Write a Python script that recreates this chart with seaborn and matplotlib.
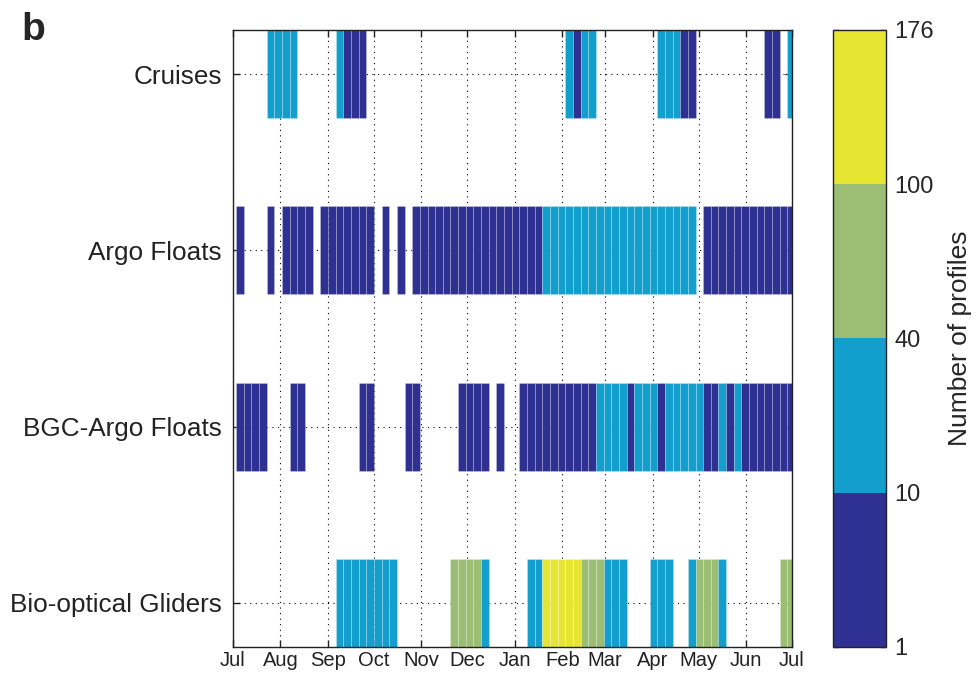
import numpy as np
import pandas as pd
import matplotlib
matplotlib.use("Agg")
import matplotlib.pyplot as plt
import seaborn as sns
from matplotlib.colors import ListedColormap, BoundaryNorm
from matplotlib.cm import ScalarMappable

# rows (top to bottom)
platforms = ["Cruises", "Argo Floats", "BGC-Argo Floats", "Bio-optical Gliders"]

# month ticks, in days since 1 July
month_days = [0, 31, 62, 92, 123, 153, 184, 215, 243, 274, 304, 335, 365]
month_labels = ["Jul", "Aug", "Sep", "Oct", "Nov", "Dec", "Jan",
                "Feb", "Mar", "Apr", "May", "Jun", "Jul"]

# colour classes of the number of profiles
class_bounds = [1, 10, 40, 100, 176]
class_colors = ["#2E3192", "#139FCD", "#9BBE74", "#E6E632"]

bin_days = 5

# segments: start day, end day, profiles per 5-day bin (estimated)
cruises_start = [22, 67, 72, 217, 222, 227, 277, 292, 347, 362]
cruises_end = [42, 72, 87, 222, 227, 237, 292, 302, 357, 365]
cruises_count = [20, 18, 6, 15, 5, 22, 25, 7, 4, 12]

argo_start = [2, 22, 32, 57, 97, 107, 117, 202, 307]
argo_end = [7, 27, 52, 92, 102, 112, 202, 302, 365]
argo_count = [3, 2, 5, 6, 3, 4, 8, 18, 7]

bgc_start = [2, 37, 82, 112, 147, 172, 187, 237, 257, 262, 277, 282, 307, 317, 322, 327, 332]
bgc_end = [22, 47, 92, 122, 167, 177, 237, 257, 262, 277, 282, 307, 317, 322, 327, 332, 365]
bgc_count = [4, 3, 2, 3, 5, 2, 8, 15, 9, 14, 8, 16, 8, 12, 9, 11, 6]

glider_start = [67, 142, 162, 192, 202, 227, 242, 272, 297, 302, 317, 357]
glider_end = [107, 162, 167, 202, 227, 242, 257, 287, 302, 317, 322, 365]
glider_count = [30, 70, 25, 30, 150, 65, 28, 22, 15, 55, 20, 50]

segments = {
    "Cruises": (cruises_start, cruises_end, cruises_count),
    "Argo Floats": (argo_start, argo_end, argo_count),
    "BGC-Argo Floats": (bgc_start, bgc_end, bgc_count),
    "Bio-optical Gliders": (glider_start, glider_end, glider_count),
}

# split segments into 5-day bins
rows = []
for i, name in enumerate(platforms):
    starts, ends, counts = segments[name]
    for s, e, c in zip(starts, ends, counts):
        for d in range(s, e, bin_days):
            rows.append({"platform": name, "row": i + 1, "day": d,
                         "width": min(d + bin_days, e) - d, "count": c})
df = pd.DataFrame(rows)

cmap = ListedColormap(class_colors)
norm = BoundaryNorm(class_bounds, cmap.N)

sns.set_theme(style="white")
plt.rcParams['font.family'] = ['Liberation Sans', 'DejaVu Sans']

fig = plt.figure(figsize=(9.79, 6.75), dpi=100)
ax = fig.add_axes([0.238, 0.0415, 0.571, 0.9141])
cax = fig.add_axes([0.851, 0.0415, 0.054, 0.9141])

ax.bar(df["day"], 0.5, width=df["width"], bottom=df["row"] - 0.25, align="edge",
       color=cmap(norm(df["count"].values)), edgecolor=(1, 1, 1, 0.3), linewidth=0.5)

ax.set_xlim(0, 365)
ax.set_ylim(4.25, 0.75)
ax.set_xticks(month_days)
ax.set_xticklabels(month_labels, fontsize=14.5)
ax.set_yticks(range(1, len(platforms) + 1))
ax.set_yticklabels(platforms, fontsize=18.8)
ax.set_axisbelow(True)
ax.grid(True, color="black", linestyle=(0, (1, 4)), linewidth=0.8)
ax.tick_params(direction="in", length=5, width=1, top=True, right=True,
               bottom=True, left=True, colors="#222222")
ax.tick_params(axis="y", pad=8)
ax.tick_params(axis="x", pad=3)
for sp in ax.spines.values():
    sp.set_color("#222222")
    sp.set_linewidth(1.0)
    sp.set_visible(True)

cb = fig.colorbar(ScalarMappable(norm=norm, cmap=cmap), cax=cax, ticks=class_bounds)
cb.ax.set_yticklabels([str(b) for b in class_bounds], fontsize=17)
cb.ax.tick_params(direction="in", length=4, width=1, left=True, right=True, pad=6)
cb.set_label("Number of profiles", fontsize=19, labelpad=10)
cb.outline.set_edgecolor("#222222")
cb.outline.set_linewidth(1.0)

fig.text(0.022, 0.94, "b", fontsize=28, fontweight="bold")

fig.savefig("out.png", dpi=100)
